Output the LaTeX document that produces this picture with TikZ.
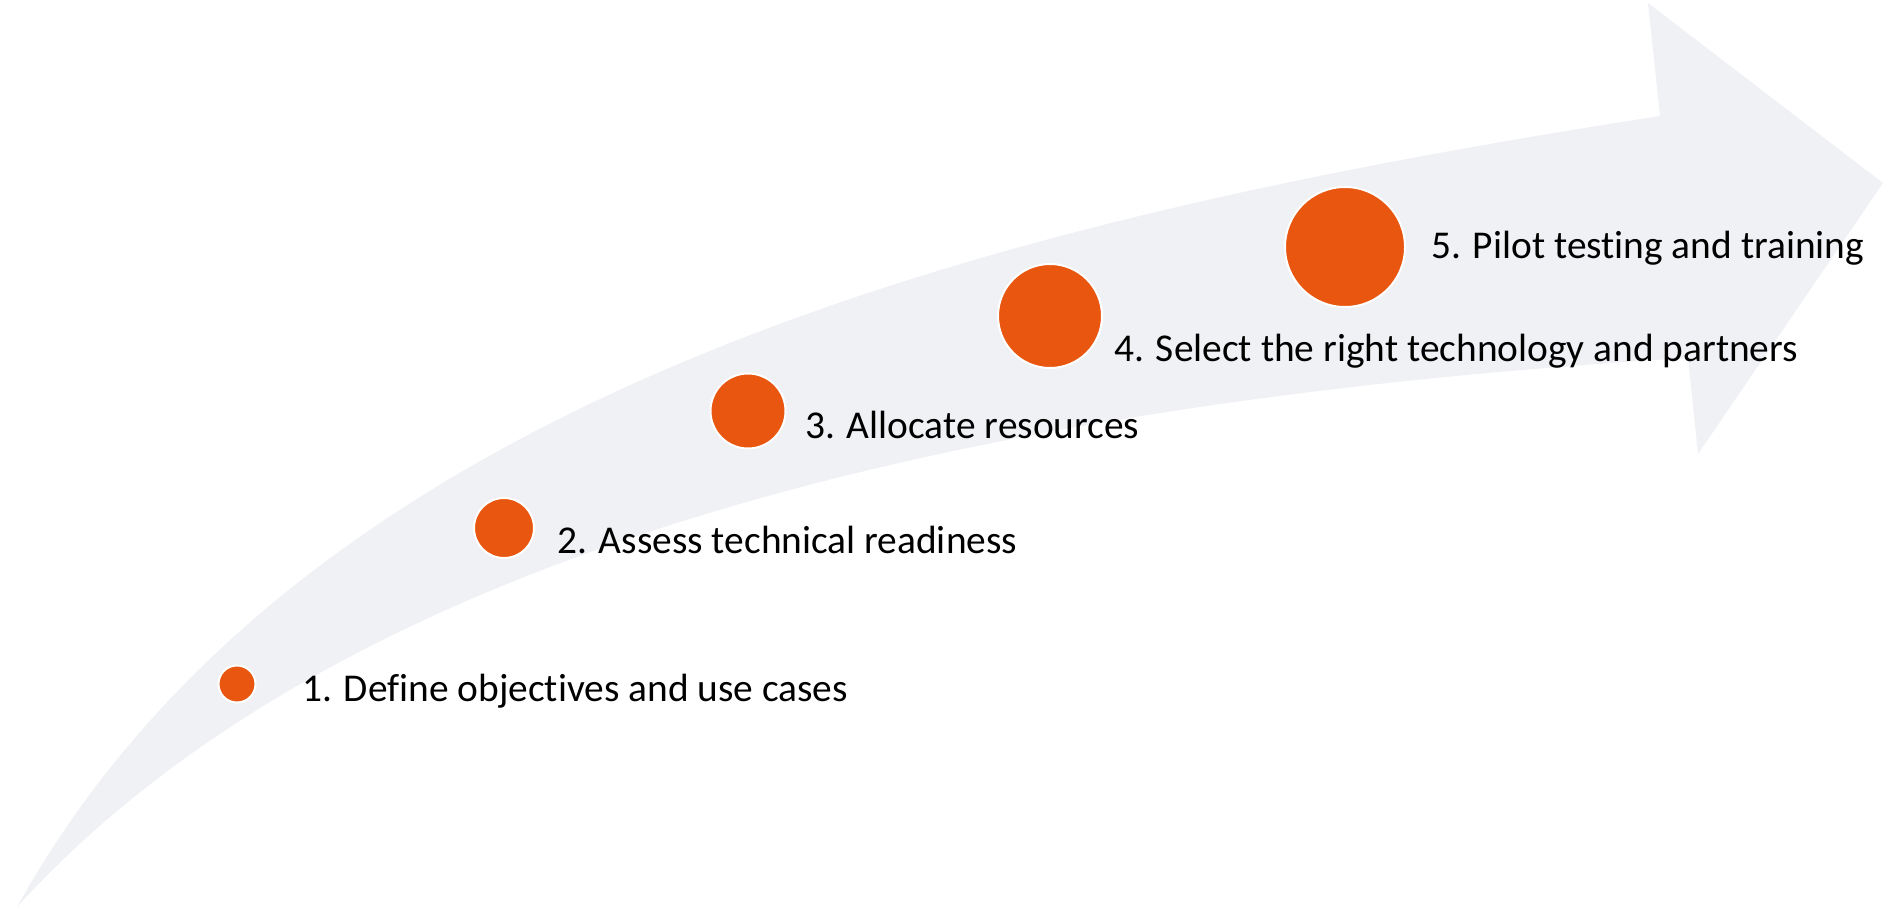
\documentclass[tikz,border=0pt]{standalone}
\usepackage{fontspec}
\setmainfont[Ligatures=NoCommon]{Carlito}
\definecolor{stepfill}{HTML}{E95610}
\definecolor{bandfill}{HTML}{F0F1F5}
\begin{document}
\begin{tikzpicture}[x=1pt,y=-1pt,
  stepdot/.style={circle,fill=stepfill,draw=white,line width=2pt,inner sep=0pt},
  steplabel/.style={anchor=base west,inner sep=0pt,text=black,font=\fontsize{39.4}{47}\selectfont}]
\useasboundingbox (0,0) rectangle (1883,907);
\coordinate (tail) at (17,907);
\coordinate (nu) at (1660,116);
\coordinate (hu) at (1648,3);
\coordinate (tip) at (1883,183);
\coordinate (hl) at (1698,454);
\coordinate (nl) at (1688,358);
\fill[bandfill] (tail) .. controls (307,385) and (1010,216.75) .. (nu)
  -- (hu) -- (tip) -- (hl) -- (nl)
  .. controls (888,406) and (317,577) .. (tail) -- cycle;
\node[stepdot,minimum size=37pt] (s1) at (237,684) {};
\node[stepdot,minimum size=60pt] (s2) at (504,528) {};
\node[stepdot,minimum size=75pt] (s3) at (748,411) {};
\node[stepdot,minimum size=104pt] (s4) at (1050,316) {};
\node[stepdot,minimum size=120pt] (s5) at (1345,247) {};
\node[steplabel] (l1) at (302,701) {1. Define objectives and use cases};
\node[steplabel] (l2) at (557,553) {2. Assess technical readiness};
\node[steplabel] (l3) at (805,438) {3. Allocate resources};
\node[steplabel] (l4) at (1114,361) {4. Select the right technology and partners};
\node[steplabel] (l5) at (1431,258) {5. Pilot testing and training};
\end{tikzpicture}
\end{document}
